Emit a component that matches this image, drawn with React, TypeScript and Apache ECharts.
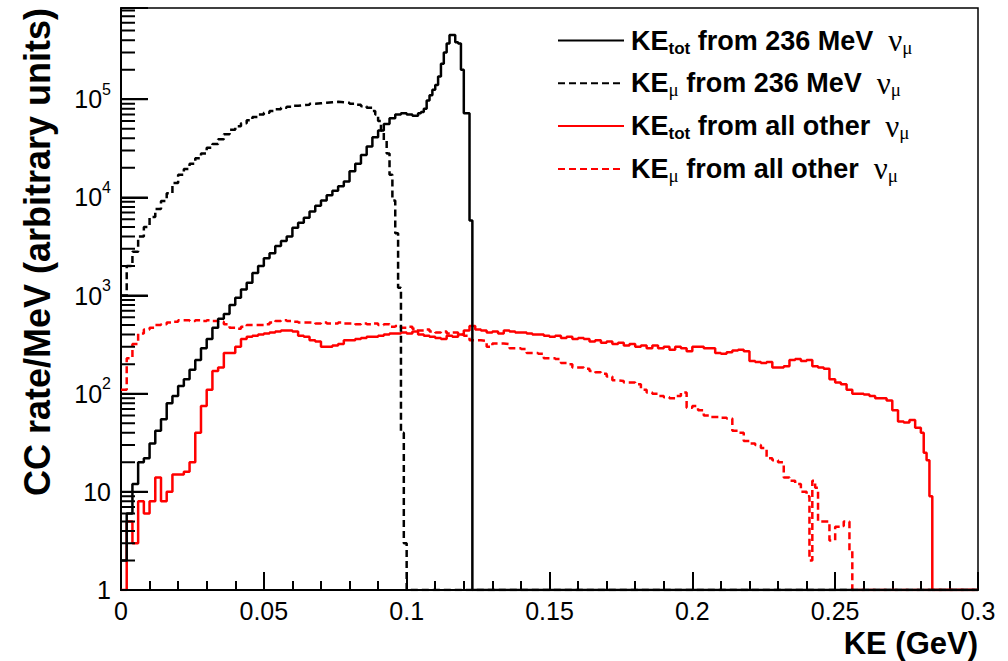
import React, { useEffect, useRef } from "react";
import * as echarts from "echarts";

// ---- data (KE in GeV, rate per MeV) : [bin low edge, content] ----
const keTot236: [number, number][] = [
  [0.000, 2], [0.002, 6], [0.004, 12], [0.006, 20], [0.008, 22], [0.010, 31], [0.012, 42], [0.014, 55],
  [0.016, 80], [0.018, 95], [0.020, 120], [0.022, 140], [0.024, 175], [0.026, 220], [0.028, 290], [0.030, 360],
  [0.032, 470], [0.034, 580], [0.036, 650], [0.038, 800], [0.040, 950], [0.042, 1150], [0.044, 1350], [0.046, 1700],
  [0.048, 2000], [0.050, 2400], [0.052, 2700], [0.054, 3200], [0.056, 3600], [0.058, 4000], [0.060, 4900], [0.062, 5500],
  [0.064, 6200], [0.066, 7200], [0.068, 8200], [0.070, 9300], [0.072, 10500], [0.074, 11700], [0.076, 13000], [0.078, 14500],
  [0.080, 18500], [0.082, 22000], [0.084, 27000], [0.086, 33000], [0.088, 41000], [0.090, 48000], [0.092, 56000], [0.094, 64000],
  [0.096, 70000], [0.098, 72000], [0.100, 70000], [0.102, 68000], [0.104, 72000], [0.105, 74000], [0.106, 80000], [0.107, 97000],
  [0.108, 110000], [0.109, 125000], [0.110, 140000], [0.111, 170000], [0.112, 230000], [0.113, 300000], [0.114, 370000],
  [0.115, 450000], [0.116, 450000], [0.117, 380000], [0.118, 370000], [0.119, 200000], [0.120, 72000], [0.121, 72000],
  [0.122, 5800], [0.123, 1], [0.300, 1],
];

const keMu236: [number, number][] = [
  [0.000, 1000], [0.002, 2000], [0.004, 2800], [0.006, 4000], [0.008, 5000], [0.010, 6300], [0.012, 7600], [0.014, 9200],
  [0.016, 11000], [0.018, 14000], [0.020, 17000], [0.022, 19500], [0.024, 22000], [0.026, 25000], [0.028, 28000], [0.030, 32000],
  [0.032, 35000], [0.034, 39000], [0.036, 44000], [0.038, 49000], [0.040, 53000], [0.042, 57000], [0.044, 61000], [0.046, 66000],
  [0.048, 70000], [0.050, 73000], [0.052, 76000], [0.054, 79000], [0.056, 82000], [0.058, 84000], [0.060, 86000], [0.062, 87000],
  [0.064, 88000], [0.066, 90000], [0.068, 91000], [0.070, 92000], [0.072, 93000], [0.074, 94000], [0.076, 93000], [0.078, 92000],
  [0.080, 90000], [0.082, 88000], [0.084, 85000], [0.086, 82000], [0.088, 76000], [0.089, 70000], [0.090, 60000], [0.091, 48000],
  [0.092, 38000], [0.093, 28000], [0.094, 17000], [0.095, 9300], [0.096, 4300], [0.097, 1200], [0.098, 40], [0.099, 3],
  [0.100, 1], [0.300, 1],
];

const keTotOther: [number, number][] = [
  [0.000, 1], [0.002, 5], [0.004, 3], [0.006, 8], [0.008, 6], [0.010, 8], [0.012, 14], [0.014, 8],
  [0.016, 10], [0.018, 15], [0.020, 15], [0.022, 16], [0.024, 20], [0.026, 40], [0.028, 75], [0.030, 110],
  [0.032, 170], [0.034, 185], [0.036, 260], [0.038, 260], [0.040, 300], [0.042, 360], [0.044, 380], [0.046, 390],
  [0.048, 400], [0.050, 410], [0.052, 420], [0.054, 430], [0.056, 440], [0.058, 440], [0.060, 430], [0.062, 390],
  [0.064, 380], [0.066, 350], [0.068, 340], [0.070, 300], [0.072, 300], [0.074, 310], [0.076, 320], [0.078, 350],
  [0.080, 350], [0.082, 360], [0.084, 370], [0.086, 380], [0.088, 380], [0.090, 390], [0.092, 400], [0.094, 410],
  [0.096, 410], [0.098, 420], [0.100, 410], [0.102, 430], [0.104, 400], [0.106, 390], [0.108, 380], [0.110, 370],
  [0.112, 360], [0.114, 390], [0.116, 380], [0.118, 400], [0.120, 440], [0.122, 490], [0.124, 450], [0.126, 440],
  [0.128, 420], [0.130, 430], [0.132, 410], [0.134, 440], [0.136, 430], [0.138, 420], [0.140, 420], [0.142, 410],
  [0.144, 400], [0.146, 400], [0.148, 390], [0.150, 380], [0.152, 390], [0.154, 370], [0.156, 380], [0.158, 360],
  [0.160, 370], [0.162, 360], [0.164, 340], [0.166, 350], [0.168, 330], [0.170, 340], [0.172, 320], [0.174, 330],
  [0.176, 310], [0.178, 320], [0.180, 300], [0.182, 310], [0.184, 290], [0.186, 310], [0.188, 290], [0.190, 300],
  [0.192, 280], [0.194, 300], [0.196, 290], [0.198, 270], [0.200, 300], [0.202, 300], [0.204, 290], [0.206, 290],
  [0.208, 260], [0.210, 255], [0.212, 265], [0.214, 275], [0.216, 280], [0.218, 270], [0.220, 215], [0.222, 210],
  [0.224, 205], [0.226, 210], [0.228, 185], [0.230, 185], [0.232, 190], [0.234, 220], [0.236, 225], [0.238, 215],
  [0.240, 220], [0.242, 190], [0.244, 185], [0.246, 180], [0.248, 140], [0.250, 130], [0.252, 125], [0.254, 110],
  [0.256, 100], [0.258, 100], [0.260, 98], [0.262, 95], [0.264, 90], [0.266, 90], [0.268, 85], [0.270, 68],
  [0.272, 52], [0.274, 51], [0.276, 54], [0.278, 45], [0.280, 40], [0.281, 25], [0.282, 21], [0.283, 9],
  [0.284, 1], [0.300, 1],
];

const keMuOther: [number, number][] = [
  [0.000, 110], [0.002, 230], [0.004, 320], [0.006, 410], [0.008, 450], [0.010, 470], [0.012, 500], [0.014, 510],
  [0.016, 530], [0.018, 540], [0.020, 560], [0.022, 560], [0.024, 550], [0.026, 560], [0.028, 550], [0.030, 560],
  [0.032, 550], [0.034, 540], [0.036, 510], [0.038, 470], [0.040, 460], [0.042, 480], [0.044, 500], [0.046, 500],
  [0.048, 500], [0.050, 510], [0.052, 530], [0.054, 550], [0.056, 560], [0.058, 550], [0.060, 540], [0.062, 530],
  [0.064, 530], [0.066, 530], [0.068, 520], [0.070, 530], [0.072, 520], [0.074, 520], [0.076, 530], [0.078, 520],
  [0.080, 520], [0.082, 510], [0.084, 520], [0.086, 510], [0.088, 520], [0.090, 500], [0.092, 510], [0.094, 480],
  [0.096, 490], [0.098, 470], [0.100, 480], [0.102, 460], [0.104, 440], [0.106, 450], [0.108, 430], [0.110, 420],
  [0.112, 430], [0.114, 410], [0.116, 420], [0.118, 400], [0.120, 390], [0.122, 350], [0.124, 350], [0.126, 345],
  [0.128, 300], [0.130, 325], [0.132, 325], [0.134, 320], [0.136, 290], [0.138, 290], [0.140, 285], [0.142, 260],
  [0.144, 260], [0.146, 255], [0.148, 230], [0.150, 230], [0.152, 225], [0.154, 205], [0.156, 200], [0.158, 185],
  [0.160, 185], [0.162, 180], [0.164, 170], [0.166, 165], [0.168, 160], [0.170, 150], [0.172, 137], [0.174, 135],
  [0.176, 130], [0.178, 130], [0.180, 125], [0.182, 110], [0.184, 103], [0.186, 100], [0.188, 95], [0.190, 92],
  [0.192, 90], [0.194, 95], [0.196, 103], [0.198, 72], [0.200, 75], [0.202, 68], [0.204, 60], [0.206, 58],
  [0.208, 58], [0.210, 57], [0.212, 56], [0.214, 42], [0.216, 40], [0.218, 33], [0.220, 31], [0.222, 30],
  [0.224, 28], [0.226, 22], [0.228, 21], [0.230, 20], [0.232, 14], [0.234, 13], [0.236, 12], [0.238, 10],
  [0.240, 9], [0.241, 2], [0.242, 13], [0.243, 11], [0.244, 5], [0.246, 5], [0.248, 3.2], [0.250, 4.4],
  [0.252, 4.5], [0.253, 5], [0.255, 2.5], [0.256, 1], [0.300, 1],
];

const seriesNames = [
  "KE_tot from 236 MeV ν_μ",
  "KE_μ from 236 MeV ν_μ",
  "KE_tot from all other ν_μ",
  "KE_μ from all other ν_μ",
];
const legendRich: Record<string, string> = {
  [seriesNames[0]]: "{k|KE}{s|tot}{k| from 236 MeV  }{g|ν}{gs|μ}",
  [seriesNames[1]]: "{k|KE}{gs|μ}{k| from 236 MeV  }{g|ν}{gs|μ}",
  [seriesNames[2]]: "{k|KE}{s|tot}{k| from all other  }{g|ν}{gs|μ}",
  [seriesNames[3]]: "{k|KE}{gs|μ}{k| from all other  }{g|ν}{gs|μ}",
};

const xMin = 0;
const xMax = 0.3;
const xInterval = 0.05;
const yMin = 1;
const yMax = 850000;
const yDecades = [1, 10, 100, 1000, 10000, 100000];
const yMantissas = [2, 3, 4, 5, 6, 7, 8, 9];
// y-tick lengths expressed along the x scale (GeV)
const yMajorTickLen = 0.0094;
const yMinorTickLen = 0.0049;

const FONT = "Liberation Sans";
const GRID = { left: 121, right: 30, top: 8, bottom: 71 };

export default function App() {
  const ref = useRef<HTMLDivElement>(null);
  const ref2 = useRef<HTMLDivElement>(null);
  useEffect(() => {
    if (!ref.current || !ref2.current) return;
    const chart = echarts.init(ref.current, null, { renderer: "svg" });
    const overlay = echarts.init(ref2.current, null, { renderer: "svg" });

    const yTickSegs: any[] = [];
    yDecades.forEach((d) => {
      yTickSegs.push([xMin, d], [xMin + yMajorTickLen, d], "-");
      yMantissas.forEach((m) => {
        const v = d * m;
        if (v <= yMax) yTickSegs.push([xMin, v], [xMin + yMinorTickLen, v], "-");
      });
    });

    const lineSeries = (name: string, data: [number, number][], color: string, dashed: boolean) => ({
      name,
      type: "line",
      step: "end",
      data,
      symbol: "none",
      showSymbol: false,
      clip: true,
      lineStyle: { color, width: 2.5, type: dashed ? [7, 4] : "solid" },
      itemStyle: { color },
      emphasis: { disabled: true },
    });

    chart.setOption({
      animation: false,
      backgroundColor: "#fff",
      grid: { ...GRID, show: true, borderColor: "#000", borderWidth: 1.5, backgroundColor: "transparent" },
      xAxis: {
        type: "value",
        min: xMin,
        max: xMax,
        interval: xInterval,
        axisLine: { show: true, lineStyle: { color: "#000", width: 2 } },
        axisTick: { show: true, inside: true, length: 18, lineStyle: { color: "#000", width: 2 } },
        minorTick: { show: true, splitNumber: 5, length: 9, lineStyle: { color: "#000", width: 2 } },
        splitLine: { show: false },
        minorSplitLine: { show: false },
        axisLabel: { color: "#000", fontSize: 25, fontFamily: FONT, margin: 8 },
        name: "KE (GeV)",
        nameLocation: "end",
        nameGap: 0,
        nameTextStyle: {
          align: "right",
          verticalAlign: "top",
          padding: [38, 0, 0, 0],
          fontSize: 31,
          fontWeight: "bold",
          fontFamily: FONT,
          color: "#000",
        },
      },
      yAxis: {
        type: "log",
        logBase: 10,
        min: yMin,
        max: yMax,
        axisLine: { show: true, lineStyle: { color: "#000", width: 2 } },
        axisTick: { show: true, inside: true, length: 27, lineStyle: { color: "#000", width: 2 } },
        splitLine: { show: false },
        axisLabel: {
          color: "#000",
          margin: 10,
          showMaxLabel: false,
          formatter: (v: number) => {
            const e = Math.round(Math.log10(v));
            if (e === 0) return "{b|1}";
            if (e === 1) return "{b|10}";
            return "{b|10}{s|" + e + "}";
          },
          rich: {
            b: { fontSize: 25, fontFamily: FONT, color: "#000", lineHeight: 36 },
            s: { fontSize: 16, fontFamily: FONT, color: "#000", lineHeight: 16, verticalAlign: "top" },
          },
        },
      },
      legend: {
        data: seriesNames,
        orient: "vertical",
        left: 552,
        top: 20,
        itemWidth: 66,
        itemHeight: 14,
        itemGap: 11.3,
        selectedMode: false,
        itemStyle: { opacity: 0, color: "rgba(0,0,0,0)", borderWidth: 0 },
        formatter: (n: string) => legendRich[n],
        textStyle: {
          padding: [0, 0, 0, 2],
          color: "#000",
          rich: {
            k: { fontSize: 27, fontWeight: "bold", fontFamily: FONT, color: "#000", lineHeight: 32 },
            s: { fontSize: 17, fontWeight: "bold", fontFamily: FONT, color: "#000", lineHeight: 15, verticalAlign: "bottom" },
            g: { fontSize: 31, fontFamily: "Liberation Serif", color: "#000", lineHeight: 32 },
            gs: { fontSize: 19, fontFamily: "Liberation Serif", color: "#000", lineHeight: 15, verticalAlign: "bottom" },
          },
        },
      },
      graphic: [
        {
          type: "text",
          x: 37,
          y: 252,
          rotation: Math.PI / 2,
          style: {
            text: "CC rate/MeV (arbitrary units)",
            fontSize: 36,
            fontWeight: "bold",
            fontFamily: FONT,
            fill: "#000",
            textAlign: "center",
            textVerticalAlign: "middle",
          },
        },
      ],
      series: [
        lineSeries(seriesNames[2], keTotOther, "#ff0000", false),
        lineSeries(seriesNames[3], keMuOther, "#ff0000", true),
        lineSeries(seriesNames[1], keMu236, "#000000", true),
        lineSeries(seriesNames[0], keTot236, "#000000", false),
      ],
    });

    // transparent overlay chart with the same grid and scales, carrying the y-axis tick marks
    overlay.setOption({
      animation: false,
      grid: { ...GRID },
      xAxis: {
        type: "value",
        min: xMin,
        max: xMax,
        show: false,
      },
      yAxis: {
        type: "log",
        min: yMin,
        max: yMax,
        axisLine: { show: false },
        axisLabel: { show: false },
        splitLine: { show: false },
        axisTick: { show: true, inside: true, length: 27, lineStyle: { color: "#000", width: 2 } },
      },
      series: [
        {
          type: "line",
          data: yTickSegs,
          symbol: "none",
          showSymbol: false,
          connectNulls: false,
          silent: true,
          clip: false,
          lineStyle: { color: "#000", width: 2, type: "solid" },
          itemStyle: { color: "#000" },
          emphasis: { disabled: true },
        },
      ],
    });

    return () => {
      overlay.dispose();
      chart.dispose();
    };
  }, []);
  return (
    <div style={{ position: "fixed", left: 0, top: 0, width: "1008px", height: "661px", background: "#fff" }}>
      <div ref={ref} style={{ position: "absolute", left: 0, top: 0, width: "1008px", height: "661px" }} />
      <div
        ref={ref2}
        style={{ position: "absolute", left: 0, top: 0, width: "1008px", height: "661px", pointerEvents: "none" }}
      />
    </div>
  );
}
